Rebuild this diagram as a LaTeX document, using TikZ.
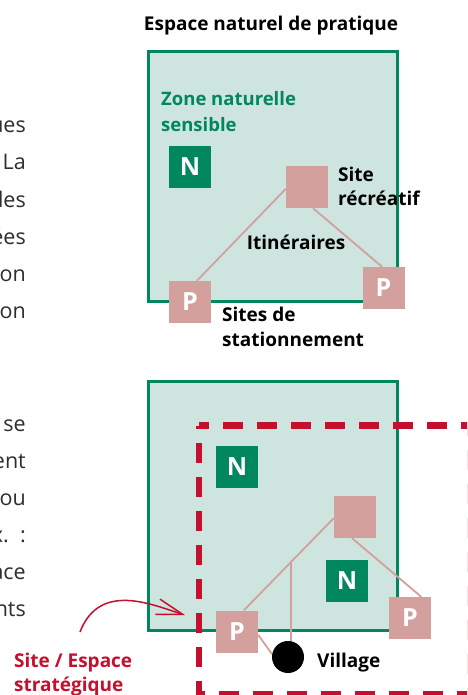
\documentclass[tikz,border=0pt]{standalone}
\usepackage{fontspec}
\setmainfont{Open Sans}
\usetikzlibrary{arrows.meta,calc}
\definecolor{grn}{RGB}{0,135,94}
\definecolor{grnfill}{RGB}{205,229,222}
\definecolor{pnk}{RGB}{211,160,158}
\definecolor{rd}{RGB}{196,16,46}
\definecolor{txt}{RGB}{45,45,45}
\pgfdeclarelayer{bg}
\pgfdeclarelayer{lines}
\pgfsetlayers{bg,lines,main}
\tikzset{
  lbl/.style={font=\fontsize{19}{22}\selectfont\bfseries, text=black, inner sep=0, anchor=base west},
  glbl/.style={lbl, font=\fontsize{18.5}{22}\selectfont\bfseries, text=grn},
  rlbl/.style={lbl, text=rd},
  box/.style={minimum size=42, inner sep=0, font=\fontsize{25}{25}\selectfont\bfseries, text=white},
  nbox/.style={box, fill=grn},
  pbox/.style={box, fill=pnk},
  zone/.style={draw=grn, line width=3, fill=grnfill, minimum size=249, inner sep=0, anchor=north west},
  trail/.style={draw=pnk, line width=1.8},
  body/.style={font=\fontsize{21.5}{24}\selectfont, text=txt, inner sep=0, anchor=base east},
  strat/.style={draw=rd, line width=6.5, dash pattern=on 20 off 14, dash phase=10},
}
\begin{document}
\begin{tikzpicture}[x=1pt,y=-1pt]
\useasboundingbox (0,0) rectangle (467,695);
\clip (0,0) rectangle (467,695);

% body text fragments (cut by the left edge)
\foreach \t [count=\i from 0] in {ues, La, les, ées, on, on}
  \node[body] (bt\i) at (26,{133+37*\i}) {\t};
\foreach \t [count=\i from 0] in {se, ent, ou, {x.\ \ :}, ace, nts}
  \node[body] (bb\i) at (26,{431+37*\i}) {\t};

% ---------- top diagram ----------
\node[lbl, anchor=base] (title) at (271,31) {Espace naturel de pratique};
\begin{pgfonlayer}{bg}
  \node[zone] (zone1) at (146.5,50.5) {};
\end{pgfonlayer}
\node[glbl] (zn1) at (161,106) {Zone naturelle};
\node[glbl] (zn2) at (161,132) {sensible};
\node[nbox] (N1) at (190,167) {N};
\node[pbox] (site1) at (307,187) {};
\node[lbl] (sr1) at (338,181) {Site};
\node[lbl] (sr2) at (338,205) {récréatif};
\node[lbl, anchor=base] (itin) at (296,249) {Itinéraires};
\node[pbox] (P1) at (190,302) {P};
\node[pbox] (P2) at (383.5,288) {P};
\node[lbl] (ss1) at (222,321) {Sites de};
\node[lbl] (ss2) at (222,346) {stationnement};
\begin{pgfonlayer}{lines}
  \draw[trail] (P1.72) -- (site1.185);
  \draw[trail] (site1.286) -- (P2.94);
\end{pgfonlayer}

% ---------- bottom diagram ----------
\begin{pgfonlayer}{bg}
  \node[zone] (zone2) at (146.5,379.5) {};
\end{pgfonlayer}
\coordinate (s1) at (199,425.5);
\coordinate (s2) at (470.5,425.5);
\coordinate (s3) at (470.5,694.5);
\coordinate (s4) at (199,694.5);
\draw[strat] (s1) -- (s2) -- (s3) -- (s4) -- cycle;
\node[nbox] (N2) at (237,467) {N};
\node[nbox] (N3) at (347,581) {N};
\node[pbox] (site2) at (355,517) {};
\node[pbox] (P3) at (237,631.5) {P};
\node[pbox] (P4) at (410,618) {P};
\node[circle, fill=black, minimum size=32, inner sep=0] (village) at (288,657) {};
\node[lbl] (vil) at (317,667) {Village};
\coordinate (J) at ($(P3.72)!0.52!(site2.183)$);
\begin{pgfonlayer}{lines}
  \draw[trail] (P3.72) -- (site2.183);
  \draw[trail] (site2.262) -- (P4.62);
  \draw[trail] (J) -- (J |- village.center);
  \draw[trail] (P3.351) -- (village.170);
\end{pgfonlayer}

% strategic site label and arrow
\node[rlbl] (se1) at (14,667) {Site / Espace};
\node[rlbl] (se2) at (14,691) {stratégique};
\coordinate (arrstart) at (80,632);
\coordinate (arrtip) at (185,615);
\draw[rd, line width=1.5, -{Straight Barb[length=26,width=16]}]
  (arrstart) .. controls (100,580) and (155,606) .. (arrtip);
\end{tikzpicture}
\end{document}
